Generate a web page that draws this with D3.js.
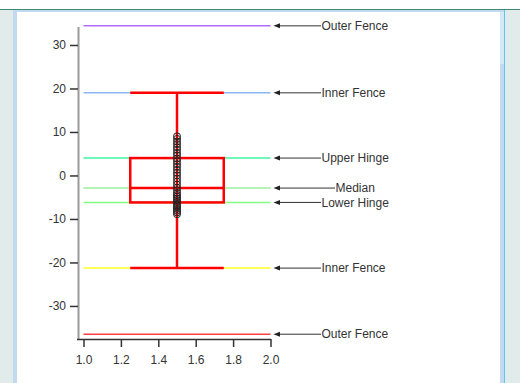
<!DOCTYPE html>
<html>
<head>
<meta charset="utf-8">
<script src="https://cdn.jsdelivr.net/npm/d3@7"></script>
<style>
  body { margin: 0; background: #fff; overflow: hidden; }
  svg { display: block; font-family: "Liberation Sans", Arial, sans-serif; }
</style>
</head>
<body>
<script>
// reference lines, top to bottom
refLabels = ["Outer Fence", "Inner Fence", "Upper Hinge", "Median", "Lower Hinge", "Inner Fence", "Outer Fence"]
refValues = [34.4, 19.0, 4.0, -2.9, -6.2, -21.3, -36.5]
refColors = ["#b06cff", "#8ab8f0", "#3cf5a0", "#9cf09c", "#80ff80", "#ffff20", "#ff4040"]

// observations (all at x = 1.5)
points = [9.0, 8.4, 7.8, 7.2, 6.5, 5.9, 5.2, 4.6, 3.9, 3.3, 2.6, 2.0, 1.3, 0.6, 0.0,
	-0.7, -1.4, -2.1, -2.8, -3.4, -4.0, -4.5, -4.9, -5.3, -5.7, -6.1, -6.5, -6.9,
	-7.3, -7.7, -8.1, -8.5, -8.9]
pointX = 1.5

yTicks = [-30, -20, -10, 0, 10, 20, 30]
xTicks = [1.0, 1.2, 1.4, 1.6, 1.8, 2.0]

width = 520
height = 383

var svg = d3.select("body").append("svg")
	.attr("width", width)
	.attr("height", height)

// window chrome
svg.append("rect").attr("x", 0).attr("y", 10).attr("width", width).attr("height", height - 10).attr("fill", "#e0ebea")
svg.append("rect").attr("x", 0).attr("y", 9).attr("width", width).attr("height", 1).attr("fill", "#3d8a74")
svg.append("rect").attr("x", 13).attr("y", 10).attr("width", 491).attr("height", height - 10).attr("fill", "#c2d9ef")
svg.append("rect").attr("x", 500).attr("y", 12).attr("width", 4).attr("height", 52).attr("fill", "#d6e8f6")
svg.append("rect").attr("x", 504).attr("y", 10).attr("width", 1).attr("height", height - 10).attr("fill", "#58c8ec")
svg.append("rect").attr("x", 17).attr("y", 12).attr("width", 483).attr("height", height - 12).attr("fill", "#fff")

x = d3.scaleLinear()
	.domain([1, 2])
	.range([83.5, 270.5])

y = d3.scaleLinear()
	.domain([-37.6, 34.25])
	.range([339, 26.5])

// reference lines
svg.append("g")
	.selectAll("line")
	.data(refValues)
	.join("line")
	.attr("x1", x(1)).attr("x2", x(2))
	.attr("y1", d => y(d)).attr("y2", d => y(d))
	.attr("stroke", (d, i) => refColors[i])
	.attr("stroke-width", 1.5)

// box plot
var box = svg.append("g")
	.attr("fill", "none")
	.attr("stroke", "#ff0000")
	.attr("stroke-width", 2.5)

var q3 = refValues[2], med = refValues[3], q1 = refValues[4]
var hi = refValues[1], lo = refValues[5]

box.append("line").attr("x1", x(1.5)).attr("x2", x(1.5)).attr("y1", y(hi)).attr("y2", y(lo))
box.append("rect")
	.attr("x", x(1.25)).attr("width", x(1.75) - x(1.25))
	.attr("y", y(q3)).attr("height", y(q1) - y(q3))
	.attr("fill", "none")
box.append("line").attr("x1", x(1.25)).attr("x2", x(1.75)).attr("y1", y(med)).attr("y2", y(med))
box.selectAll("line.cap")
	.data([hi, lo])
	.join("line")
	.attr("class", "cap")
	.attr("x1", x(1.25)).attr("x2", x(1.75))
	.attr("y1", d => y(d)).attr("y2", d => y(d))

// points
svg.append("g")
	.selectAll("circle")
	.data(points)
	.join("circle")
	.attr("cx", x(pointX))
	.attr("cy", d => y(d))
	.attr("r", 3.5)
	.attr("fill", "none")
	.attr("stroke", "#222")
	.attr("stroke-width", 1)

// annotations
var ann = svg.append("g")
	.selectAll("g")
	.data(refValues)
	.join("g")
	.attr("transform", d => "translate(0," + y(d) + ")")

ann.append("line")
	.attr("x1", 279).attr("x2", (d, i) => refLabels[i] == "Median" ? 335 : 321)
	.attr("y1", 0).attr("y2", 0)
	.attr("stroke", "#333")
	.attr("stroke-width", 1)
ann.append("path")
	.attr("d", "M273.5,0L280,-2.5L280,2.5Z")
	.attr("fill", "#222")
ann.append("text")
	.attr("x", (d, i) => refLabels[i] == "Median" ? 335.5 : 321.5)
	.attr("dy", "0.35em")
	.attr("font-size", 12)
	.attr("fill", "#333")
	.text((d, i) => refLabels[i])

// axes
var gy = svg.append("g")
	.attr("transform", "translate(78,0)")
	.call(d3.axisLeft(y).tickValues(yTicks).tickSize(8).tickSizeOuter(0).tickPadding(4).tickFormat(d => String(d)))
gy.select(".domain").attr("stroke", "#9a9a9a").attr("stroke-width", 2)
gy.selectAll(".tick line").attr("stroke", "#333").attr("stroke-width", 1.5)
gy.selectAll("text").attr("font-size", 12).attr("fill", "#333").attr("font-family", null)

var gx = svg.append("g")
	.attr("transform", "translate(0,339)")
	.call(d3.axisBottom(x).tickValues(xTicks).tickSize(8).tickSizeOuter(0).tickPadding(8).tickFormat(d => d.toFixed(1)))
gx.select(".domain").attr("d", "M77,0.5H271").attr("stroke", "#333").attr("stroke-width", 1.5)
gx.selectAll(".tick line").attr("stroke", "#333").attr("stroke-width", 1.5)
gx.selectAll("text").attr("font-size", 12).attr("fill", "#333").attr("font-family", null)
</script>
</body>
</html>
